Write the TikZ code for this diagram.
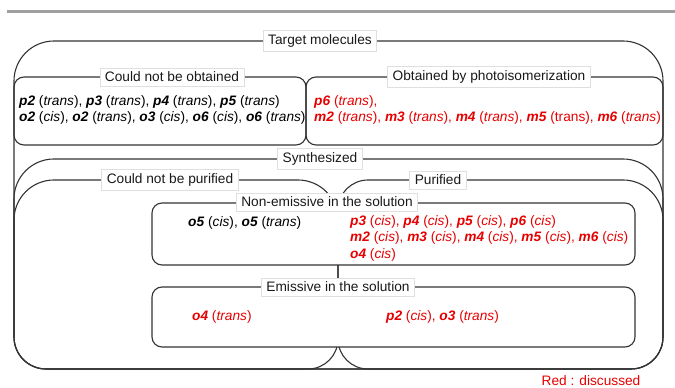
\documentclass[tikz,border=0pt]{standalone}
\usepackage{fontspec}
\setmainfont{Liberation Sans}
\newcommand{\mol}[1]{\textbf{\textit{#1}}}
\newcommand{\ci}{(\textit{cis})}
\newcommand{\tr}{(\textit{trans})}
\newcommand{\rrbox}[9]{\path[#1] ({#2},{#5+#9}) -- ({#2},{#3-#6}) arc[start angle=180,end angle=90,radius=#6] -- ({#4-#7},{#3}) arc[start angle=90,end angle=0,radius=#7] -- ({#4},{#5+#8}) arc[start angle=0,end angle=-90,radius=#8] -- ({#2+#9},{#5}) arc[start angle=270,end angle=180,radius=#9] -- cycle;}
\definecolor{redtxt}{RGB}{230,0,0}
\begin{document}
\begin{tikzpicture}[x=1pt,y=1pt,
  bx/.style={draw=black!80, line width=1.1pt},
  lbl/.style={fill=white, draw=gray!25, line width=0.6pt, inner xsep=5pt, inner ysep=4pt, text=black!90,
    font=\fontsize{13.7}{16.5}\selectfont},
  txt/.style={inner sep=0pt, anchor=west, align=left, font=\fontsize{13.7}{16.5}\selectfont},
  rtxt/.style={txt, text=redtxt}]
\useasboundingbox (0,0) rectangle (675,388);
% top bar
\draw[gray!75, line width=3.5pt] (7,376.5) -- (675,376.5);
% boxes
\rrbox{bx}{14}{347}{663}{19}{40}{40}{32}{32}
\rrbox{bx}{14}{311}{306}{243}{10}{10}{10}{10}
\rrbox{bx}{306}{311}{663}{243}{10}{10}{10}{10}
\rrbox{bx}{14}{229}{663}{19}{40}{40}{32}{32}
\rrbox{bx}{14}{208}{338}{19}{40}{40}{30}{32}
\rrbox{bx}{338}{208}{663}{19}{30}{40}{32}{30}
\rrbox{bx,fill=white}{152}{185}{635}{123}{10}{10}{10}{10}
\rrbox{bx,fill=white}{152}{101}{635}{41}{10}{10}{10}{10}
% labels
\node[lbl] (ltarget) at (320,347) {Target molecules};
\node[lbl] (lcno) at (172,311) {Could not be obtained};
\node[lbl] (lobt) at (489,311) {Obtained by photoisomerization};
\node[lbl] (lsyn) at (320,229) {Synthesized};
\node[lbl] (lcnp) at (170,208) {Could not be purified};
\node[lbl] (lpur) at (438,208) {Purified};
\node[lbl] (lnon) at (327,186) {Non-emissive in the solution};
\node[lbl] (lemi) at (338,101) {Emissive in the solution};
% texts
\node[txt] (tcno) at (19,278) {\mol{p2} \tr, \mol{p3} \tr, \mol{p4} \tr, \mol{p5} \tr\\
\mol{o2} \ci, \mol{o2} \tr, \mol{o3} \ci, \mol{o6} \ci, \mol{o6} \tr};
\node[rtxt] (tobt) at (314,278) {\mol{p6} \tr,\\
\mol{m2} \tr, \mol{m3} \tr, \mol{m4} \tr, \mol{m5} (trans), \mol{m6} \tr};
\node[txt] (to5) at (188,165) {\mol{o5} \ci, \mol{o5} \tr};
\node[rtxt] (tnon) at (350,150) {\mol{p3} \ci, \mol{p4} \ci, \mol{p5} \ci, \mol{p6} \ci\\
\mol{m2} \ci, \mol{m3} \ci, \mol{m4} \ci, \mol{m5} \ci, \mol{m6} \ci\\
\mol{o4} \ci};
\node[rtxt] (to4) at (192,71) {\mol{o4} \tr};
\node[rtxt] (tp2) at (386,71) {\mol{p2} \ci, \mol{o3} \tr};
\node[rtxt, anchor=center] (tred) at (591,7.5) {Red : discussed};
\end{tikzpicture}
\end{document}
